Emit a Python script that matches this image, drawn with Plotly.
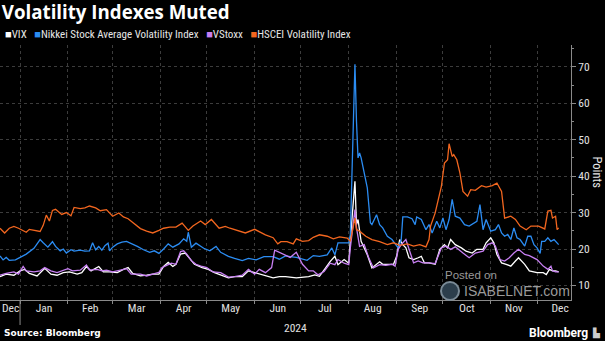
import plotly.graph_objects as go

# ---------------- data ----------------
vix_dates = ["2023-12-19","2023-12-23","2023-12-28","2024-01-01","2024-01-04","2024-01-07","2024-01-12","2024-01-17","2024-01-21","2024-01-25",
             "2024-01-29","2024-02-02","2024-02-07","2024-02-10","2024-02-13","2024-02-16","2024-02-21","2024-02-24","2024-02-28","2024-03-04",
             "2024-03-08","2024-03-11","2024-03-14","2024-03-19","2024-03-23","2024-03-27","2024-03-31","2024-04-03","2024-04-06","2024-04-09",
             "2024-04-11","2024-04-14","2024-04-17","2024-04-21","2024-04-23","2024-04-28","2024-05-02","2024-05-06","2024-05-11","2024-05-15",
             "2024-05-19","2024-05-24","2024-05-28","2024-06-01","2024-06-04","2024-06-08","2024-06-13","2024-06-17","2024-06-21","2024-06-28",
             "2024-07-06","2024-07-10","2024-07-13","2024-07-17","2024-07-20","2024-07-23","2024-07-25","2024-07-29","2024-08-01","2024-08-02",
             "2024-08-05","2024-08-06","2024-08-07","2024-08-09","2024-08-13","2024-08-16","2024-08-21","2024-08-23","2024-08-27","2024-08-30",
             "2024-09-01","2024-09-03","2024-09-05","2024-09-07","2024-09-09","2024-09-12","2024-09-15","2024-09-17","2024-09-19","2024-09-22",
             "2024-09-26","2024-09-29","2024-10-02","2024-10-04","2024-10-06","2024-10-09","2024-10-13","2024-10-16","2024-10-20","2024-10-23",
             "2024-10-27","2024-10-29","2024-11-01","2024-11-03","2024-11-05","2024-11-08","2024-11-11","2024-11-14","2024-11-17","2024-11-19",
             "2024-11-23","2024-11-26","2024-12-01","2024-12-05","2024-12-07","2024-12-09","2024-12-11","2024-12-13","2024-12-15"]
vix_vals = [12.4,13.1,12.8,14.0,14.4,13.3,12.6,14.7,13.1,12.8,
            13.5,13.7,13.1,13.5,15.2,14.0,15.2,13.7,13.7,13.5,
            14.4,14.9,13.3,12.6,12.8,13.1,13.1,15.2,16.3,15.2,
            15.8,18.6,18.9,16.8,15.8,14.9,14.4,13.5,12.8,12.1,
            12.4,12.4,14.0,13.5,13.1,12.8,12.1,12.4,12.4,12.1,
            12.4,12.9,12.5,14.8,16.6,18.0,15.7,17.1,16.1,22.5,
            38.6,26.7,28.1,22.1,18.4,14.8,16.5,15.8,15.8,15.8,
            18.0,22.6,21.2,20.3,17.6,17.1,17.6,18.0,16.2,16.2,
            15.8,19.9,21.2,20.3,22.6,21.2,20.3,19.4,18.9,19.9,
            19.9,21.7,23.1,21.7,18.5,16.2,15.8,15.3,16.7,17.6,
            15.8,14.0,13.5,13.5,13.0,14.4,14.0,14.0,13.7]

nikkei_dates = ["2023-12-19","2023-12-21","2023-12-23","2023-12-25","2023-12-29","2024-01-01","2024-01-05","2024-01-10","2024-01-12","2024-01-14",
                "2024-01-16","2024-01-19","2024-01-22","2024-01-24","2024-01-27","2024-01-29","2024-01-31","2024-02-03","2024-02-05","2024-02-09",
                "2024-02-12","2024-02-15","2024-02-17","2024-02-19","2024-02-21","2024-02-23","2024-02-25","2024-02-27","2024-02-28","2024-03-01",
                "2024-03-04","2024-03-07","2024-03-10","2024-03-13","2024-03-17","2024-03-21","2024-03-25","2024-03-28","2024-03-31","2024-04-03",
                "2024-04-06","2024-04-09","2024-04-13","2024-04-16","2024-04-18","2024-04-19","2024-04-21","2024-04-24","2024-04-29","2024-05-03",
                "2024-05-07","2024-05-10","2024-05-15","2024-05-19","2024-05-24","2024-05-28","2024-06-02","2024-06-07","2024-06-13","2024-06-17",
                "2024-06-21","2024-06-24","2024-06-28","2024-07-05","2024-07-09","2024-07-13","2024-07-18","2024-07-21","2024-07-23","2024-07-25",
                "2024-07-29","2024-08-01","2024-08-02","2024-08-05","2024-08-06","2024-08-07","2024-08-08","2024-08-09","2024-08-13","2024-08-15",
                "2024-08-16","2024-08-19","2024-08-21","2024-08-23","2024-08-26","2024-08-29","2024-09-02","2024-09-04","2024-09-05","2024-09-08",
                "2024-09-11","2024-09-13","2024-09-14","2024-09-17","2024-09-20","2024-09-22","2024-09-24","2024-09-27","2024-09-29","2024-10-01",
                "2024-10-03","2024-10-05","2024-10-07","2024-10-09","2024-10-12","2024-10-15","2024-10-18","2024-10-21","2024-10-23","2024-10-25",
                "2024-10-27","2024-10-29","2024-11-01","2024-11-04","2024-11-06","2024-11-08","2024-11-10","2024-11-12","2024-11-14","2024-11-16",
                "2024-11-18","2024-11-20","2024-11-23","2024-11-25","2024-11-27","2024-11-29","2024-12-01","2024-12-03","2024-12-04","2024-12-06",
                "2024-12-08","2024-12-10","2024-12-12","2024-12-15"]
nikkei_vals = [18.1,17.0,17.7,16.9,17.0,17.7,18.6,20.2,21.4,22.6,
               21.7,20.5,22.0,20.7,19.5,20.0,18.9,19.8,19.4,19.7,
               19.4,19.5,21.7,19.8,20.7,19.7,20.9,21.6,19.5,20.5,
               21.4,21.9,22.1,21.4,20.7,19.8,19.1,19.5,18.8,20.0,
               21.4,20.5,21.4,22.8,22.1,24.6,20.5,21.6,20.2,19.5,
               20.7,19.1,18.0,17.4,16.8,17.4,17.0,17.9,17.9,17.2,
               18.1,17.9,17.7,16.9,18.2,18.0,18.4,20.3,18.4,21.7,
               21.7,21.7,23.9,70.7,55.0,45.0,46.4,45.0,36.8,27.2,
               26.7,29.4,26.7,25.8,23.5,22.6,20.3,22.6,28.8,28.8,
               28.3,26.7,28.8,28.1,25.3,26.7,24.4,27.6,25.8,28.5,
               25.3,28.1,33.6,29.0,28.5,26.7,26.3,27.2,27.6,32.2,
               25.3,28.1,24.9,25.3,26.7,24.4,23.5,24.0,22.6,25.8,
               23.1,22.6,20.8,23.5,23.5,21.2,20.3,18.8,22.1,22.1,
               23.1,22.1,22.6,21.2]

vstoxx_dates = ["2023-12-19","2023-12-23","2023-12-28","2023-12-31","2024-01-03","2024-01-05","2024-01-10","2024-01-14","2024-01-17","2024-01-21",
                "2024-01-25","2024-01-28","2024-02-01","2024-02-04","2024-02-09","2024-02-13","2024-02-15","2024-02-20","2024-02-23","2024-02-26",
                "2024-03-01","2024-03-06","2024-03-10","2024-03-13","2024-03-19","2024-03-23","2024-03-27","2024-03-31","2024-04-02","2024-04-05",
                "2024-04-08","2024-04-11","2024-04-14","2024-04-16","2024-04-18","2024-04-21","2024-04-24","2024-04-28","2024-05-01","2024-05-05",
                "2024-05-10","2024-05-15","2024-05-19","2024-05-24","2024-05-28","2024-06-01","2024-06-04","2024-06-08","2024-06-12","2024-06-14",
                "2024-06-17","2024-06-21","2024-06-24","2024-06-28","2024-07-02","2024-07-06","2024-07-09","2024-07-12","2024-07-16","2024-07-20",
                "2024-07-23","2024-07-25","2024-07-29","2024-08-01","2024-08-02","2024-08-05","2024-08-06","2024-08-08","2024-08-11","2024-08-14",
                "2024-08-17","2024-08-21","2024-08-25","2024-08-29","2024-08-31","2024-09-02","2024-09-04","2024-09-07","2024-09-09","2024-09-12",
                "2024-09-15","2024-09-18","2024-09-22","2024-09-26","2024-09-30","2024-10-03","2024-10-06","2024-10-09","2024-10-14","2024-10-18",
                "2024-10-22","2024-10-27","2024-10-30","2024-11-02","2024-11-04","2024-11-07","2024-11-10","2024-11-13","2024-11-16","2024-11-19",
                "2024-11-23","2024-11-26","2024-12-01","2024-12-05","2024-12-08","2024-12-10","2024-12-11","2024-12-13","2024-12-15"]
vstoxx_vals = [12.8,13.3,13.7,13.1,15.2,14.0,13.7,14.0,14.9,14.0,
               13.5,14.0,14.6,14.0,14.2,15.6,14.2,14.4,14.0,14.2,
               13.7,14.2,14.6,13.1,13.1,12.6,13.1,13.6,14.9,15.6,
               16.1,15.8,19.3,19.5,18.6,16.8,15.8,15.2,14.9,13.7,
               13.5,12.3,12.4,12.8,14.4,13.1,14.4,13.5,14.9,19.7,
               19.1,18.1,17.7,19.1,15.8,14.0,14.0,12.9,13.8,16.1,
               15.7,17.1,16.1,15.7,20.3,30.8,25.8,20.7,21.2,17.5,
               14.8,15.7,15.5,15.8,15.3,19.9,21.2,22.6,19.9,16.2,
               16.7,16.2,16.2,16.0,20.3,20.8,19.9,20.6,18.9,17.6,
               18.9,19.4,21.2,21.7,20.8,17.1,16.7,17.6,18.9,19.9,
               18.5,18.2,17.1,15.3,14.4,15.3,14.0,13.7,13.7]

hscei_dates = ["2023-12-19","2023-12-22","2023-12-25","2023-12-28","2023-12-31","2024-01-03","2024-01-05","2024-01-07","2024-01-10","2024-01-14",
               "2024-01-16","2024-01-18","2024-01-20","2024-01-22","2024-01-24","2024-01-26","2024-01-28","2024-01-31","2024-02-03","2024-02-05",
               "2024-02-09","2024-02-12","2024-02-15","2024-02-19","2024-02-22","2024-02-26","2024-03-01","2024-03-05","2024-03-08","2024-03-11",
               "2024-03-14","2024-03-19","2024-03-23","2024-03-27","2024-03-31","2024-04-03","2024-04-07","2024-04-11","2024-04-15","2024-04-19",
               "2024-04-22","2024-04-27","2024-04-30","2024-05-04","2024-05-09","2024-05-13","2024-05-16","2024-05-20","2024-05-26","2024-06-01",
               "2024-06-08","2024-06-13","2024-06-16","2024-06-18","2024-06-22","2024-06-26","2024-06-28","2024-07-02","2024-07-06","2024-07-09",
               "2024-07-13","2024-07-18","2024-07-22","2024-07-26","2024-07-31","2024-08-02","2024-08-05","2024-08-06","2024-08-08","2024-08-12",
               "2024-08-16","2024-08-21","2024-08-26","2024-08-30","2024-09-03","2024-09-08","2024-09-12","2024-09-16","2024-09-20","2024-09-22",
               "2024-09-23","2024-09-26","2024-09-28","2024-09-30","2024-10-02","2024-10-04","2024-10-05","2024-10-07","2024-10-08","2024-10-10",
               "2024-10-12","2024-10-14","2024-10-17","2024-10-19","2024-10-22","2024-10-26","2024-10-29","2024-11-02","2024-11-05","2024-11-07",
               "2024-11-08","2024-11-10","2024-11-14","2024-11-17","2024-11-20","2024-11-24","2024-11-27","2024-12-02","2024-12-06","2024-12-08",
               "2024-12-10","2024-12-11","2024-12-13","2024-12-14","2024-12-15"]
hscei_vals = [25.7,24.4,25.7,26.2,25.7,25.1,24.6,25.4,25.1,24.8,
              26.5,29.3,27.7,30.6,30.9,30.2,29.5,30.0,29.1,31.4,
              31.1,31.3,31.8,31.3,30.5,30.8,29.0,29.9,28.8,28.3,
              27.2,25.6,24.9,24.4,25.1,25.7,26.0,26.0,27.1,25.1,
              26.3,27.7,26.7,28.1,25.7,26.2,25.7,25.1,24.4,25.4,
              23.9,23.1,21.4,22.0,22.0,21.4,22.8,22.1,22.3,23.2,
              23.9,23.5,22.8,23.3,23.0,22.1,28.5,25.3,24.9,23.5,
              22.6,22.0,21.2,21.7,21.0,21.4,20.8,21.2,20.6,22.6,
              26.3,29.9,33.6,37.2,43.6,44.5,48.9,45.4,45.9,44.5,
              40.9,35.8,34.5,36.3,36.1,37.4,37.0,37.4,38.1,36.3,
              35.8,28.5,29.0,28.1,26.3,25.3,26.3,26.3,25.5,30.4,
              30.6,28.5,29.0,25.3,25.8]

series_names = ["VIX", "Nikkei Stock Average Volatility Index", "VStoxx", "HSCEI Volatility Index"]
series_colors = ["#ffffff", "#2b8cf2", "#c77ff2", "#f2661f"]
y_ticks = [10, 20, 30, 40, 50, 60, 70]

# ---------------- figure ----------------
fig = go.Figure()
all_series = [(vix_dates, vix_vals), (nikkei_dates, nikkei_vals),
              (vstoxx_dates, vstoxx_vals), (hscei_dates, hscei_vals)]
for (d, v), name, col in zip(all_series, series_names, series_colors):
    fig.add_trace(go.Scatter(x=d, y=v, mode="lines", name=name,
                             line=dict(color=col, width=1.3), showlegend=False))

FONT = "Liberation Sans Narrow, Roboto Condensed, Roboto, sans-serif"
grid = "#3c3c3c"
axis_col = "#8a8a8a"
PH = 255  # plot-area height in px, used to place footer texts

fig.update_layout(
    width=605, height=341,
    paper_bgcolor="#000000", plot_bgcolor="#000000",
    margin=dict(l=0, r=34, t=45, b=41),
    font=dict(family=FONT, color="#e6e6e6", size=11),
    title=dict(text="<b>Volatility Indexes Muted</b>", x=0.003, xref="container", xanchor="left",
               y=1 - 12 / 341, yref="container", yanchor="middle",
               font=dict(family="Open Sans, Roboto, sans-serif", size=18.7, color="#ffffff")),
    xaxis=dict(type="date", range=["2023-12-19", "2024-12-23"],
               dtick="M1", tick0="2023-12-01", tickformat="%b", ticklabelmode="period",
               showgrid=True, gridcolor=grid, griddash="dot", gridwidth=1,
               ticks="outside", ticklen=3, tickcolor=axis_col, ticklabelstandoff=-6,
               showline=True, linecolor=axis_col, linewidth=1, zeroline=False,
               tickfont=dict(size=11.5, color="#e0e0e0", family=FONT)),
    yaxis=dict(side="right", range=[6, 76], tickvals=y_ticks,
               showgrid=True, gridcolor=grid, griddash="dot", gridwidth=1,
               ticks="outside", ticklen=4, tickcolor=axis_col,
               minor=dict(dtick=5, tick0=0, ticks="outside", ticklen=2, tickcolor=axis_col, showgrid=False),
               showline=True, linecolor=axis_col, linewidth=1, zeroline=False,
               tickfont=dict(size=11.5, color="#e0e0e0", family=FONT)),
    showlegend=False,
)

# legend (square swatches, as in the original)
leg_parts = []
for name, col in zip(series_names, series_colors):
    leg_parts.append(f"<span style='color:{col}'>■</span>{name}")
fig.add_annotation(text="&nbsp;&nbsp;&nbsp;".join(leg_parts), xref="paper", yref="paper",
                   x=0.006, y=1 + 10 / PH, xanchor="left", yanchor="middle", showarrow=False,
                   font=dict(family=FONT, size=11, color="#e6e6e6"))

# axis title (reads top-to-bottom)
fig.add_annotation(text="Points", xref="paper", yref="paper", x=1 + 26 / 571, y=0.5,
                   textangle=90, showarrow=False, xanchor="center", yanchor="middle",
                   font=dict(family=FONT, size=12.5, color="#e6e6e6"))

# first (partial) month label, year label and year divider tick
fig.add_annotation(text="Dec", xref="paper", yref="paper", x=0.0, y=-8 / PH,
                   xanchor="left", yanchor="middle", showarrow=False,
                   font=dict(family=FONT, size=11.5, color="#e0e0e0"))
fig.add_annotation(text="2024", xref="paper", yref="paper", x=295 / 571, y=-28 / PH,
                   xanchor="center", yanchor="middle", showarrow=False,
                   font=dict(family=FONT, size=11.5, color="#e0e0e0"))
fig.add_shape(type="line", xref="x", yref="paper", x0="2024-01-01", x1="2024-01-01",
              y0=0, y1=-25 / PH, line=dict(color=axis_col, width=1))

# footer
fig.add_annotation(text="<b>Source: Bloomberg</b>", xref="paper", yref="paper", x=0.004, y=-33 / PH,
                   xanchor="left", yanchor="middle", showarrow=False,
                   font=dict(family="DejaVu Sans, sans-serif", size=9, color="#ffffff"))
fig.add_annotation(text="<b>Bloomberg</b>", xref="paper", yref="paper", x=590 / 571, y=-33 / PH,
                   xanchor="right", yanchor="middle", showarrow=False,
                   font=dict(family="Roboto, sans-serif", size=12, color="#ffffff"))
fig.add_annotation(text="▙", xref="paper", yref="paper", x=603 / 571, y=-33 / PH,
                   xanchor="right", yanchor="middle", showarrow=False,
                   font=dict(family="DejaVu Sans, sans-serif", size=9, color="#cccccc"))

# watermark
fig.add_annotation(text="Posted on", xref="paper", yref="paper", x=443 / 571, y=25 / PH,
                   xanchor="left", yanchor="middle", showarrow=False,
                   font=dict(family="Liberation Sans, Arial, sans-serif", size=11.5, color="#9a9a9a"))
fig.add_annotation(text="ISABELNET.com", xref="paper", yref="paper", x=462 / 571, y=9 / PH,
                   xanchor="left", yanchor="middle", showarrow=False,
                   font=dict(family="Liberation Sans, Arial, sans-serif", size=14, color="#9a9a9a"))
fig.add_shape(type="circle", xref="paper", yref="paper", x0=441 / 571, x1=459 / 571,
              y0=0 / PH, y1=18 / PH, line=dict(color="#7a8a96", width=2), fillcolor="#2c3e4c")

fig.write_html("out.html")
